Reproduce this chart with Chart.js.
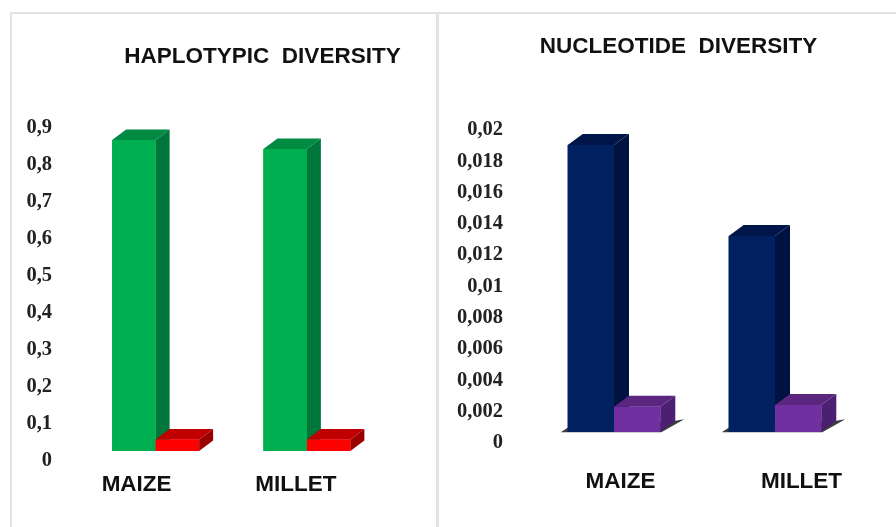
<!DOCTYPE html>
<html>
<head>
<meta charset="utf-8">
<style>
html,body{margin:0;padding:0;background:#fff;width:896px;height:527px;overflow:hidden}
.panel{position:absolute}
.rule{position:absolute;background:#e2e2e2}
</style>
<script src="https://cdn.jsdelivr.net/npm/chart.js@4/dist/chart.umd.min.js"></script>
</head>
<body>
<div class="rule" style="left:10px;top:12px;width:2px;height:515px"></div>
<div class="rule" style="left:10px;top:12px;width:886px;height:2px"></div>
<div class="rule" style="left:436px;top:12px;width:3px;height:515px"></div>
<div class="panel" style="left:0;top:0;width:438px;height:527px"><canvas id="hap"></canvas></div>
<div class="panel" style="left:438px;top:0;width:458px;height:527px"><canvas id="nuc"></canvas></div>
<script>
// ====== DATA ======
const categories = ['MAIZE', 'MILLET'];
const hapGreen = [0.86, 0.835];
const hapRed = [0.032, 0.032];
const hapTicks = ['0', '0,1', '0,2', '0,3', '0,4', '0,5', '0,6', '0,7', '0,8', '0,9'];
const nucBlue = [0.0189, 0.0129];
const nucPurple = [0.00165, 0.00176];
const nucTicks = ['0', '0,002', '0,004', '0,006', '0,008', '0,01', '0,012', '0,014', '0,016', '0,018', '0,02'];

// ====== 3D LOOK ======
function shade(ctx, pts, color){
  ctx.fillStyle = color; ctx.beginPath();
  pts.forEach((p,i)=> i ? ctx.lineTo(p[0],p[1]) : ctx.moveTo(p[0],p[1]));
  ctx.closePath(); ctx.fill();
}
// side and top faces, read from the chart's own bar elements
const depth3d = {
  id:'depth3d',
  beforeDatasetsDraw(chart, args, opts){
    if(!opts.floor) return;
    // thin dark floor showing behind each bar pair
    const ctx = chart.ctx, dx = opts.dx, dy = opts.dy;
    const first = chart.getDatasetMeta(0).data, second = chart.getDatasetMeta(1).data;
    first.forEach((bar,i)=>{
      const l = bar.x-bar.width/2, b = bar.base, r = second[i].x+second[i].width/2;
      shade(ctx, [[l-7,b+.5],[l,b-4],[r+dx,b-dy],[r+24,b-12.5],[r+1,b+.5]], opts.floor);
    });
  },
  afterDatasetsDraw(chart, args, opts){
    const ctx = chart.ctx, dx = opts.dx, dy = opts.dy;
    ctx.save();
    chart.data.datasets.forEach((ds, i)=>{
      chart.getDatasetMeta(i).data.forEach(bar=>{
        const l = bar.x-bar.width/2, r = bar.x+bar.width/2, t = bar.y, b = bar.base;
        shade(ctx, [[r,t],[r+dx,t-dy],[r+dx,b-dy],[r,b]], ds.sideColor);
        shade(ctx, [[l,t],[l+dx,t-dy],[r+dx,t-dy],[r,t]], ds.topColor);
        bar.draw(ctx); // small bar's front has to stay over the tall bar's side
      });
    });
    ctx.restore();
  }
};
// title and category names sit at their own spot in each panel
const panelText = {
  id:'panelText',
  afterDraw(chart, args, opts){
    const ctx = chart.ctx, x = chart.scales.x;
    ctx.save();
    ctx.fillStyle = '#111'; ctx.textAlign = 'center'; ctx.textBaseline = 'middle';
    ctx.font = 'bold 22.5px "Liberation Sans"';
    ctx.fillText(opts.title, opts.titleX, opts.titleY);
    categories.forEach((c,i)=> ctx.fillText(c, x.getPixelForValue(i)+opts.shift[i], opts.y));
    ctx.restore();
  }
};

function makeChart(id, cfg){
  return new Chart(document.getElementById(id), {
    type:'bar',
    data:{ labels:categories, datasets:cfg.datasets.map(d=>({...d, yAxisID:'yBars', barPercentage:1, categoryPercentage:.575, borderWidth:0})) },
    options:{
      responsive:true, maintainAspectRatio:false, animation:false,
      layout:{ padding:cfg.padding },
      plugins:{ legend:{display:false}, tooltip:{enabled:false}, depth3d:cfg.depth, panelText:cfg.text },
      scales:{
        x:{ grid:{display:false, drawTicks:false}, border:{display:false}, ticks:{display:false} },
        // tick labels stand a little lower than the bars' floor, so the bars get their own hidden axis
        y:{ min:0, max:cfg.max, grid:{display:false, drawTicks:false}, border:{display:false},
          afterFit(ax){ ax.width = cfg.axisWidth; },
          afterBuildTicks(ax){ ax.ticks = cfg.ticks.map((t,i)=>({value:i*cfg.step})); },
          ticks:{ color:'#222', padding:cfg.tickPad, autoSkip:false, font:{family:'"Liberation Serif"', size:20.5, weight:'bold'},
            callback(v,i){ return cfg.ticks[i]; } } },
        yBars:{ display:false, min:cfg.barMin, max:cfg.barMax }
      }
    },
    plugins:[depth3d, panelText]
  });
}

makeChart('hap', {
  max:0.9, step:0.1, ticks:hapTicks, tickPad:28, axisWidth:80,
  barMin:-0.02765, barMax:0.8932,
  padding:{left:0,right:55.5,top:128,bottom:66},
  depth:{dx:14,dy:10.5},
  text:{title:'HAPLOTYPIC  DIVERSITY', titleX:262.5, titleY:57, y:485, shift:[-19,-11]},
  datasets:[
    {data:hapGreen, backgroundColor:'#00b050', sideColor:'#00763a', topColor:'#008a42'},
    {data:hapRed, backgroundColor:'#ff0000', sideColor:'#9a0000', topColor:'#c00000'}
  ]
});
makeChart('nuc', {
  max:0.02, step:0.002, ticks:nucTicks, tickPad:30.5, axisWidth:95.5,
  barMin:-0.000745, barMax:0.01989,
  padding:{left:0,right:40.5,top:130,bottom:84},
  depth:{dx:15,dy:11,floor:'#3c3c3c'},
  text:{title:'NUCLEOTIDE  DIVERSITY', titleX:240.5, titleY:47, y:482, shift:[6.5,26.5]},
  datasets:[
    {data:nucBlue, backgroundColor:'#002060', sideColor:'#001240', topColor:'#00164a'},
    {data:nucPurple, backgroundColor:'#7030a0', sideColor:'#4b2070', topColor:'#5a2680'}
  ]
});
</script>
</body>
</html>
